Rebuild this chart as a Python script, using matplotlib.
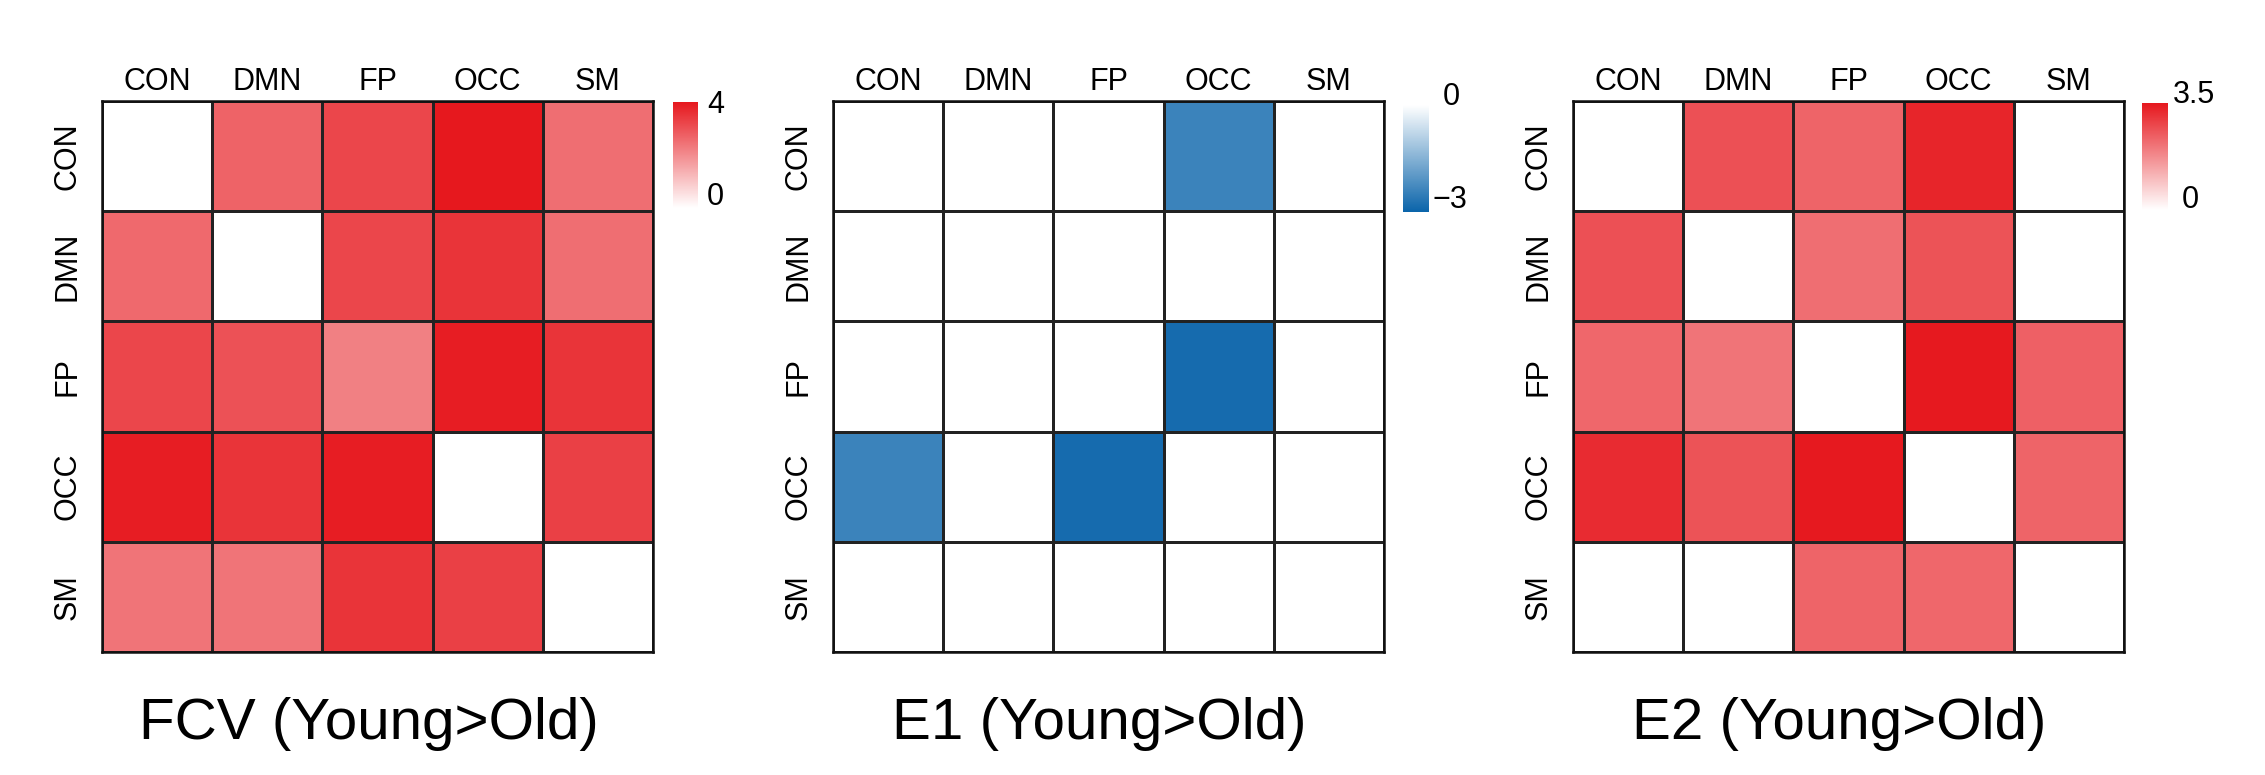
import numpy as np
import matplotlib
matplotlib.use('Agg')
from matplotlib import pyplot as plt
from matplotlib.colors import LinearSegmentedColormap

plt.rcParams['font.family'] = ['Liberation Sans', 'DejaVu Sans']

# data
networks = ['CON', 'DMN', 'FP', 'OCC', 'SM']

fcv = [[0.0, 2.7, 3.2, 4.0, 2.5],
       [2.6, 0.0, 3.2, 3.5, 2.5],
       [3.2, 3.0, 2.2, 3.9, 3.5],
       [3.9, 3.5, 3.9, 0.0, 3.3],
       [2.4, 2.4, 3.5, 3.3, 0.0]]

e1 = [[0.0, 0.0, 0.0, -2.4, 0.0],
      [0.0, 0.0, 0.0, 0.0, 0.0],
      [0.0, 0.0, 0.0, -2.85, 0.0],
      [-2.4, 0.0, -2.85, 0.0, 0.0],
      [0.0, 0.0, 0.0, 0.0, 0.0]]

e2 = [[0.0, 2.65, 2.35, 3.3, 0.0],
      [2.65, 0.0, 2.2, 2.6, 0.0],
      [2.3, 2.1, 0.0, 3.48, 2.4],
      [3.2, 2.6, 3.48, 0.0, 2.35],
      [0.0, 0.0, 2.35, 2.3, 0.0]]

titles = ['FCV (Young>Old)', 'E1 (Young>Old)', 'E2 (Young>Old)']
ranges = [(0, 4), (-3, 0), (0, 3.5)]
cbar_text = [('0', '4'), ('\u22123', '0'), ('0', '3.5')]

red = '#E6181E'
blue = '#0A64AA'
cmaps = [LinearSegmentedColormap.from_list('r1', ['white', red]),
         LinearSegmentedColormap.from_list('b1', [blue, 'white']),
         LinearSegmentedColormap.from_list('r2', ['white', red])]

W, H = 2265, 775
fig = plt.figure(figsize=(W / 100, H / 100), dpi=100)

lefts = [102, 833, 1573]
top, size = 101, 551
cbars = [(673, 102, 25, 106), (1403, 105, 26, 107), (2142, 103, 26, 107)]
# label anchors in colorbar axes coords: (x, y) for low and high
cb_pos = [((1.36, 0.10), (1.36, 0.97)),
          ((1.15, 0.11), (1.54, 1.075)),
          ((1.54, 0.093), (1.19, 1.075))]

for i, data in enumerate([fcv, e1, e2]):
    ax = fig.add_axes([lefts[i] / W, (H - top - size) / H, size / W, size / H])
    vmin, vmax = ranges[i]
    m = ax.pcolormesh(np.array(data), cmap=cmaps[i], vmin=vmin, vmax=vmax,
                      edgecolors='#222222', linewidth=0.8)
    ax.set_xlim(0, 5)
    ax.set_ylim(5, 0)
    ax.set_xticks(np.arange(5) + 0.5)
    ax.set_yticks(np.arange(5) + 0.5)
    ax.set_xticklabels(networks)
    ax.set_yticklabels(networks, rotation=90, va='center')
    ax.xaxis.tick_top()
    ax.tick_params(axis='x', length=0, pad=3, labelsize=22)
    ax.tick_params(axis='y', length=0, pad=14, labelsize=22)
    for s in ax.spines.values():
        s.set_linewidth(1.8)
        s.set_color('#111111')
    ax.text(0.484, -0.131, titles[i], transform=ax.transAxes, ha='center',
            va='center', fontsize=42)

    cx, cy, cw, ch = cbars[i]
    cax = fig.add_axes([cx / W, (H - cy - ch) / H, cw / W, ch / H])
    cb = fig.colorbar(m, cax=cax)
    cb.outline.set_visible(False)
    cax.set_yticks([])
    lo, hi = cb_pos[i]
    cax.text(lo[0], lo[1], cbar_text[i][0], transform=cax.transAxes,
             ha='left', va='center', fontsize=22)
    cax.text(hi[0], hi[1], cbar_text[i][1], transform=cax.transAxes,
             ha='left', va='center', fontsize=22)

fig.savefig('out.png', dpi=100)
